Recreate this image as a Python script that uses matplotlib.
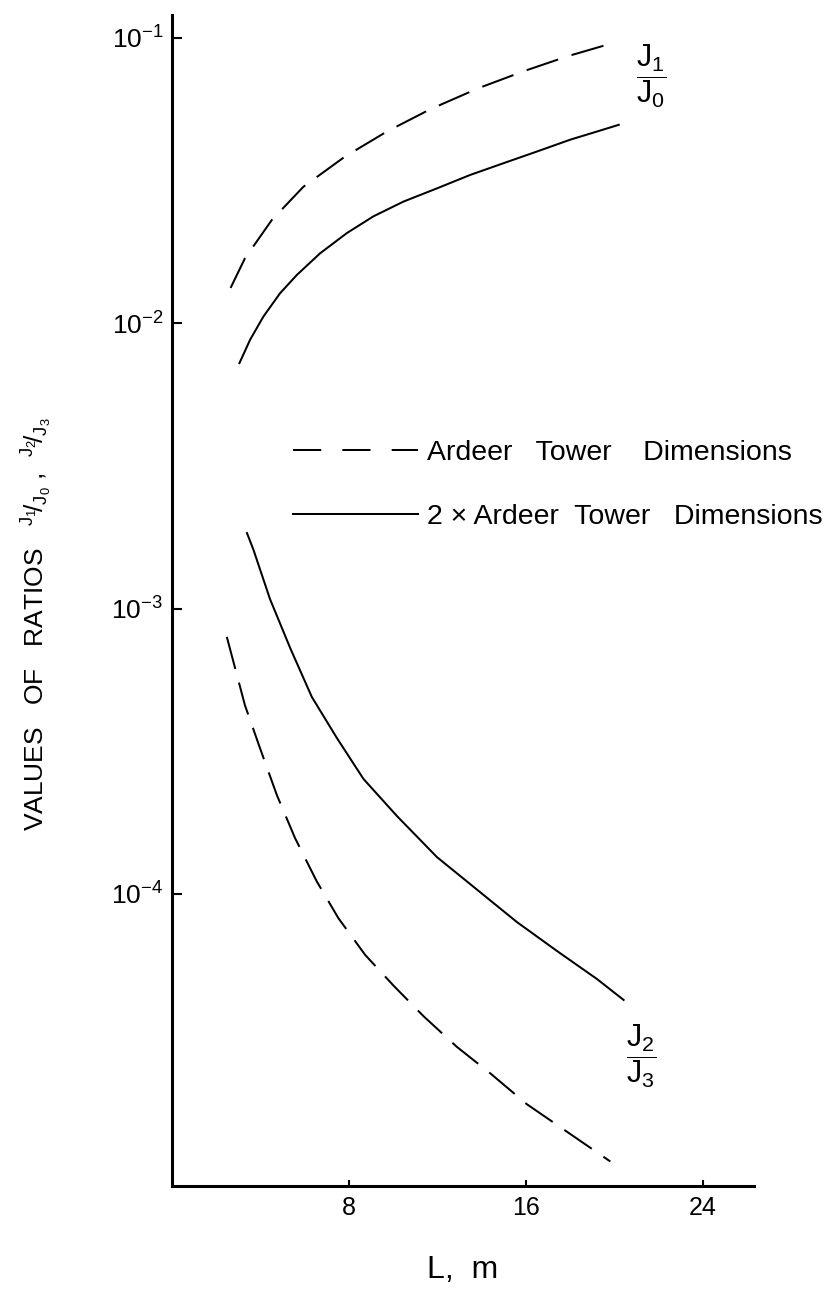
import matplotlib
matplotlib.use('Agg')
import matplotlib.pyplot as plt
from matplotlib.lines import Line2D
from matplotlib.ticker import NullLocator

plt.rcParams['font.family'] = ['Liberation Sans', 'DejaVu Sans']
plt.rcParams['mathtext.fontset'] = 'custom'
plt.rcParams['mathtext.rm'] = 'Liberation Sans'
plt.rcParams['mathtext.it'] = 'Liberation Sans'
plt.rcParams['mathtext.bf'] = 'Liberation Sans:bold'
plt.rcParams['mathtext.default'] = 'regular'

# J1/J0, Ardeer tower dimensions (dashed)
L_j1j0_a = [2.66, 3.31, 4.52, 5.95, 7.83, 9.72, 11.67, 13.86, 15.97, 17.93, 19.89]
j1j0_a = [0.0133, 0.0169, 0.0230, 0.0301, 0.0384, 0.0470, 0.0562, 0.0667, 0.0768, 0.0865, 0.0958]

# J1/J0, 2 x Ardeer tower dimensions (solid)
L_j1j0_2a = [3.06, 3.54, 4.14, 4.89, 5.65, 6.70, 7.91, 9.11, 10.47, 11.98, 13.48, 14.99, 16.50, 18.0,
             19.21, 20.19]
j1j0_2a = [0.00725, 0.00875, 0.01055, 0.01273, 0.01476, 0.01758, 0.0207, 0.0237, 0.0267, 0.0297,
           0.0331, 0.0364, 0.0400, 0.0440, 0.0470, 0.0496]

# J2/J3, 2 x Ardeer tower dimensions (solid)
L_j2j3_2a = [3.40, 3.69, 4.44, 5.35, 6.33, 7.46, 8.66, 10.17, 11.98, 13.79, 15.59, 17.40, 19.21, 20.41]
j2j3_2a = [1.84e-3, 1.61e-3, 1.08e-3, 7.28e-4, 4.90e-4, 3.52e-4, 2.53e-4, 1.876e-4, 1.346e-4,
           1.035e-4, 7.97e-5, 6.31e-5, 5.03e-5, 4.25e-5]

# J2/J3, Ardeer tower dimensions (dashed)
L_j2j3_a = [2.49, 3.31, 3.99, 4.75, 5.57, 6.55, 7.53, 8.74, 10.02, 11.37, 12.88, 14.39, 16.05, 17.78,
            19.81]
j2j3_a = [7.96e-4, 4.58e-4, 3.24e-4, 2.22e-4, 1.57e-4, 1.107e-4, 8.22e-5, 6.11e-5, 4.77e-5, 3.73e-5,
          2.91e-5, 2.35e-5, 1.83e-5, 1.48e-5, 1.154e-5]

x_ticks = [8, 16, 24]
y_ticks = [1e-1, 1e-2, 1e-3, 1e-4]
legend_labels = ['Ardeer   Tower    Dimensions', '2 × Ardeer  Tower   Dimensions']

fig = plt.figure(figsize=(8.33, 12.99), dpi=100)
ax = fig.add_axes([0.2061, 0.0870, 0.6991, 0.9015])

lw = 1.45
ax.plot(L_j1j0_a, j1j0_a, color='black', lw=lw, dashes=(16.5, 7))
ax.plot(L_j1j0_2a, j1j0_2a, color='black', lw=lw)
ax.plot(L_j2j3_2a, j2j3_2a, color='black', lw=lw)
ax.plot(L_j2j3_a, j2j3_a, color='black', lw=lw, dashes=(16.5, 7))

ax.set_yscale('log')
ax.set_xlim(0, 26.3)
ax.set_ylim(9.47e-6, 0.1204)

for s in ['top', 'right']:
    ax.spines[s].set_visible(False)
for s in ['left', 'bottom']:
    ax.spines[s].set_linewidth(2.2)

ax.set_xticks(x_ticks)
ax.set_yticks(y_ticks)
ax.yaxis.set_minor_locator(NullLocator())
ax.xaxis.set_minor_locator(NullLocator())
ax.tick_params(axis='y', direction='in', length=7, width=1.5, labelsize=19, pad=6)
ax.tick_params(axis='x', direction='in', length=4.5, width=1.5, labelsize=18, pad=7)

ax.set_xlabel('L,  m', fontsize=23)
ax.xaxis.label.set_va('center')
ax.xaxis.set_label_coords(0.5, -0.0717)

ax.set_ylabel(r'VALUES   OF   RATIOS   ${}^{J_1}\!/{}_{J_0}$ ,  ${}^{J_2}\!/{}_{J_3}$', fontsize=19)
ax.yaxis.label.set_va('center')
ax.yaxis.set_label_coords(-0.232, 0.480)

ax.text(21.66, 0.0736, r'$\dfrac{J_1}{J_0}$', fontsize=22, ha='center', va='center')
ax.text(21.21, 2.69e-5, r'$\dfrac{J_2}{J_3}$', fontsize=22, ha='center', va='center')

h1 = Line2D([], [], color='black', lw=lw, dashes=(14, 10.5))
h2 = Line2D([], [], color='black', lw=lw)
ax.legend([h1, h2], legend_labels, loc='upper left', bbox_to_anchor=(0.2083, 0.637),
          frameon=False, fontsize=20.5, handlelength=4.39, handletextpad=0.3, labelspacing=1.33,
          borderpad=0, borderaxespad=0)

fig.savefig('out.png', dpi=100)
